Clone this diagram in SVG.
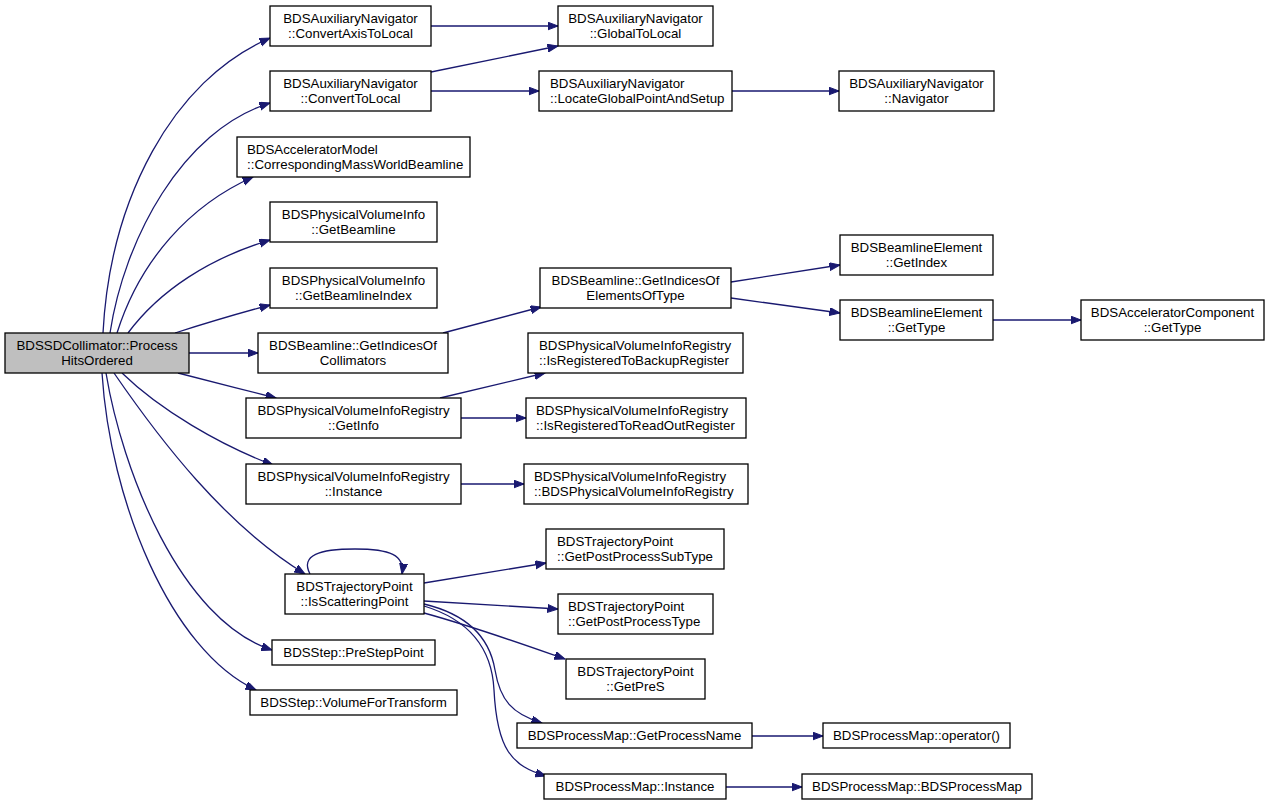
<svg xmlns="http://www.w3.org/2000/svg" width="1269" height="807" viewBox="0 0 1269 807">
<style>
  .box { fill: #ffffff; stroke: #000000; stroke-width: 1.3; }
  .root { fill: #bfbfbf; stroke: #000000; stroke-width: 1.3; }
  text { font-family: "Liberation Sans", Arial, sans-serif; font-size: 13.3px; fill: #000000; }
  .c { text-anchor: middle; }
  .l { text-anchor: start; }
  .e { fill: none; stroke: #191970; stroke-width: 1.3; marker-end: url(#arr); }
</style>
<defs>
  <marker id="arr" markerUnits="userSpaceOnUse" markerWidth="11" markerHeight="9" refX="10.5" refY="4" orient="auto">
    <path d="M0,0 L10.5,4 L0,8 z" fill="#191970" stroke="#191970" stroke-width="1"/>
  </marker>
</defs>
<rect width="1269" height="807" fill="#ffffff"/>

<g id="connectors">
  <path class="e" d="M103,333 C110,200 172,80 270,38"/>
  <path class="e" d="M110,333 C124,240 182,130 270,103"/>
  <path class="e" d="M117,333 C140,260 190,205 253,177"/>
  <path class="e" d="M128,333 C160,290 210,258 270,240"/>
  <path class="e" d="M175,333 C200,325 240,313 270,305"/>
  <path class="e" d="M189,353 L258,353"/>
  <path class="e" d="M178,373 C205,380 245,390 276,398"/>
  <path class="e" d="M122,373 C160,410 220,445 273,465"/>
  <path class="e" d="M114,373 C160,440 225,525 305,574"/>
  <path class="e" d="M106,373 C122,470 180,620 272,650"/>
  <path class="e" d="M102,373 C110,500 170,650 256,690"/>
  <path class="e" d="M431,26 L558,26"/>
  <path class="e" d="M431,72 L558,46"/>
  <path class="e" d="M431,91 L539,91"/>
  <path class="e" d="M732,91 L839,91"/>
  <path class="e" d="M443,333 L541,307"/>
  <path class="e" d="M731,282 L840,265"/>
  <path class="e" d="M731,298 L840,313"/>
  <path class="e" d="M993,320 L1081,320"/>
  <path class="e" d="M440,398 L545,373"/>
  <path class="e" d="M461,418 L526,418"/>
  <path class="e" d="M461,484 L524,484"/>
  <path class="e" d="M310,574 C300,555 320,549 355,549 C390,549 405,555 402,574"/>
  <path class="e" d="M424,583 L546,563"/>
  <path class="e" d="M424,601 L558,609"/>
  <path class="e" d="M424,613 C475,627 525,645 565,659"/>
  <path class="e" d="M424,604 C470,615 490,640 495,670 C500,700 512,714 542,723"/>
  <path class="e" d="M424,606 C470,620 492,650 494,690 C497,750 512,766 546,776"/>
  <path class="e" d="M752,736 L823,736"/>
  <path class="e" d="M726,787 L802,787"/>
</g>

<g id="n_root"><rect class="root" x="5" y="333" width="184" height="40"/><text class="c" x="97" y="350">BDSSDCollimator::Process</text><text class="c" x="97" y="365">HitsOrdered</text></g>

<g id="n_convertaxis"><rect class="box" x="270" y="6" width="161" height="40"/><text class="c" x="350.5" y="23">BDSAuxiliaryNavigator</text><text class="c" x="350.5" y="38">::ConvertAxisToLocal</text></g>
<g id="n_globaltolocal"><rect class="box" x="558" y="6" width="155" height="40"/><text class="c" x="635.5" y="23">BDSAuxiliaryNavigator</text><text class="c" x="635.5" y="38">::GlobalToLocal</text></g>
<g id="n_converttolocal"><rect class="box" x="270" y="71" width="161" height="40"/><text class="c" x="350.5" y="88">BDSAuxiliaryNavigator</text><text class="c" x="350.5" y="103">::ConvertToLocal</text></g>
<g id="n_locate"><rect class="box" x="539" y="71" width="193" height="40"/><text class="l" x="550" y="88">BDSAuxiliaryNavigator</text><text class="l" x="550" y="103">::LocateGlobalPointAndSetup</text></g>
<g id="n_navigator"><rect class="box" x="839" y="71" width="155" height="40"/><text class="c" x="916.5" y="88">BDSAuxiliaryNavigator</text><text class="c" x="916.5" y="103">::Navigator</text></g>

<g id="n_corresponding"><rect class="box" x="237" y="137" width="233" height="40"/><text class="l" x="247" y="154">BDSAcceleratorModel</text><text class="l" x="247" y="169">::CorrespondingMassWorldBeamline</text></g>
<g id="n_getbeamline"><rect class="box" x="270" y="202" width="167" height="40"/><text class="c" x="353.5" y="219">BDSPhysicalVolumeInfo</text><text class="c" x="353.5" y="234">::GetBeamline</text></g>
<g id="n_getbeamlineindex"><rect class="box" x="270" y="268" width="167" height="40"/><text class="c" x="353.5" y="285">BDSPhysicalVolumeInfo</text><text class="c" x="353.5" y="300">::GetBeamlineIndex</text></g>
<g id="n_collimators"><rect class="box" x="258" y="333" width="190" height="40"/><text class="c" x="353" y="350">BDSBeamline::GetIndicesOf</text><text class="c" x="353" y="365">Collimators</text></g>
<g id="n_elementsoftype"><rect class="box" x="540" y="268" width="191" height="40"/><text class="c" x="635.5" y="285">BDSBeamline::GetIndicesOf</text><text class="c" x="635.5" y="300">ElementsOfType</text></g>
<g id="n_getindex"><rect class="box" x="840" y="235" width="153" height="40"/><text class="c" x="916.5" y="252">BDSBeamlineElement</text><text class="c" x="916.5" y="267">::GetIndex</text></g>
<g id="n_gettype"><rect class="box" x="840" y="300" width="153" height="40"/><text class="c" x="916.5" y="317">BDSBeamlineElement</text><text class="c" x="916.5" y="332">::GetType</text></g>
<g id="n_accgettype"><rect class="box" x="1081" y="300" width="183" height="40"/><text class="c" x="1172.5" y="317">BDSAcceleratorComponent</text><text class="c" x="1172.5" y="332">::GetType</text></g>

<g id="n_backup"><rect class="box" x="528" y="333" width="215" height="40"/><text class="l" x="539" y="350">BDSPhysicalVolumeInfoRegistry</text><text class="l" x="539" y="365">::IsRegisteredToBackupRegister</text></g>
<g id="n_getinfo"><rect class="box" x="246" y="398" width="215" height="40"/><text class="c" x="353.5" y="415">BDSPhysicalVolumeInfoRegistry</text><text class="c" x="353.5" y="430">::GetInfo</text></g>
<g id="n_readout"><rect class="box" x="526" y="398" width="220" height="40"/><text class="l" x="536" y="415">BDSPhysicalVolumeInfoRegistry</text><text class="l" x="536" y="430">::IsRegisteredToReadOutRegister</text></g>
<g id="n_reginstance"><rect class="box" x="246" y="464" width="215" height="40"/><text class="c" x="353.5" y="481">BDSPhysicalVolumeInfoRegistry</text><text class="c" x="353.5" y="496">::Instance</text></g>
<g id="n_regctor"><rect class="box" x="524" y="464" width="224" height="40"/><text class="l" x="534" y="481">BDSPhysicalVolumeInfoRegistry</text><text class="l" x="534" y="496">::BDSPhysicalVolumeInfoRegistry</text></g>

<g id="n_subtype"><rect class="box" x="546" y="529" width="178" height="40"/><text class="l" x="557" y="546">BDSTrajectoryPoint</text><text class="l" x="557" y="561">::GetPostProcessSubType</text></g>
<g id="n_isscattering"><rect class="box" x="285" y="574" width="139" height="40"/><text class="c" x="354.5" y="591">BDSTrajectoryPoint</text><text class="c" x="354.5" y="606">::IsScatteringPoint</text></g>
<g id="n_posttype"><rect class="box" x="558" y="594" width="155" height="40"/><text class="l" x="568" y="611">BDSTrajectoryPoint</text><text class="l" x="568" y="626">::GetPostProcessType</text></g>
<g id="n_gets"><rect class="box" x="566" y="659" width="139" height="40"/><text class="c" x="635.5" y="676">BDSTrajectoryPoint</text><text class="c" x="635.5" y="691">::GetPreS</text></g>
<g id="n_prestep"><rect class="box" x="272" y="640" width="163" height="25"/><text class="c" x="353.5" y="657">BDSStep::PreStepPoint</text></g>
<g id="n_volume"><rect class="box" x="250" y="690" width="207" height="25"/><text class="c" x="353.5" y="707">BDSStep::VolumeForTransform</text></g>
<g id="n_processname"><rect class="box" x="517" y="723" width="235" height="25"/><text class="c" x="634.5" y="740">BDSProcessMap::GetProcessName</text></g>
<g id="n_operator"><rect class="box" x="823" y="723" width="187" height="25"/><text class="c" x="916.5" y="740">BDSProcessMap::operator()</text></g>
<g id="n_pminstance"><rect class="box" x="544" y="774" width="182" height="25"/><text class="c" x="635" y="791">BDSProcessMap::Instance</text></g>
<g id="n_pmctor"><rect class="box" x="802" y="774" width="230" height="25"/><text class="c" x="917" y="791">BDSProcessMap::BDSProcessMap</text></g>
</svg>
